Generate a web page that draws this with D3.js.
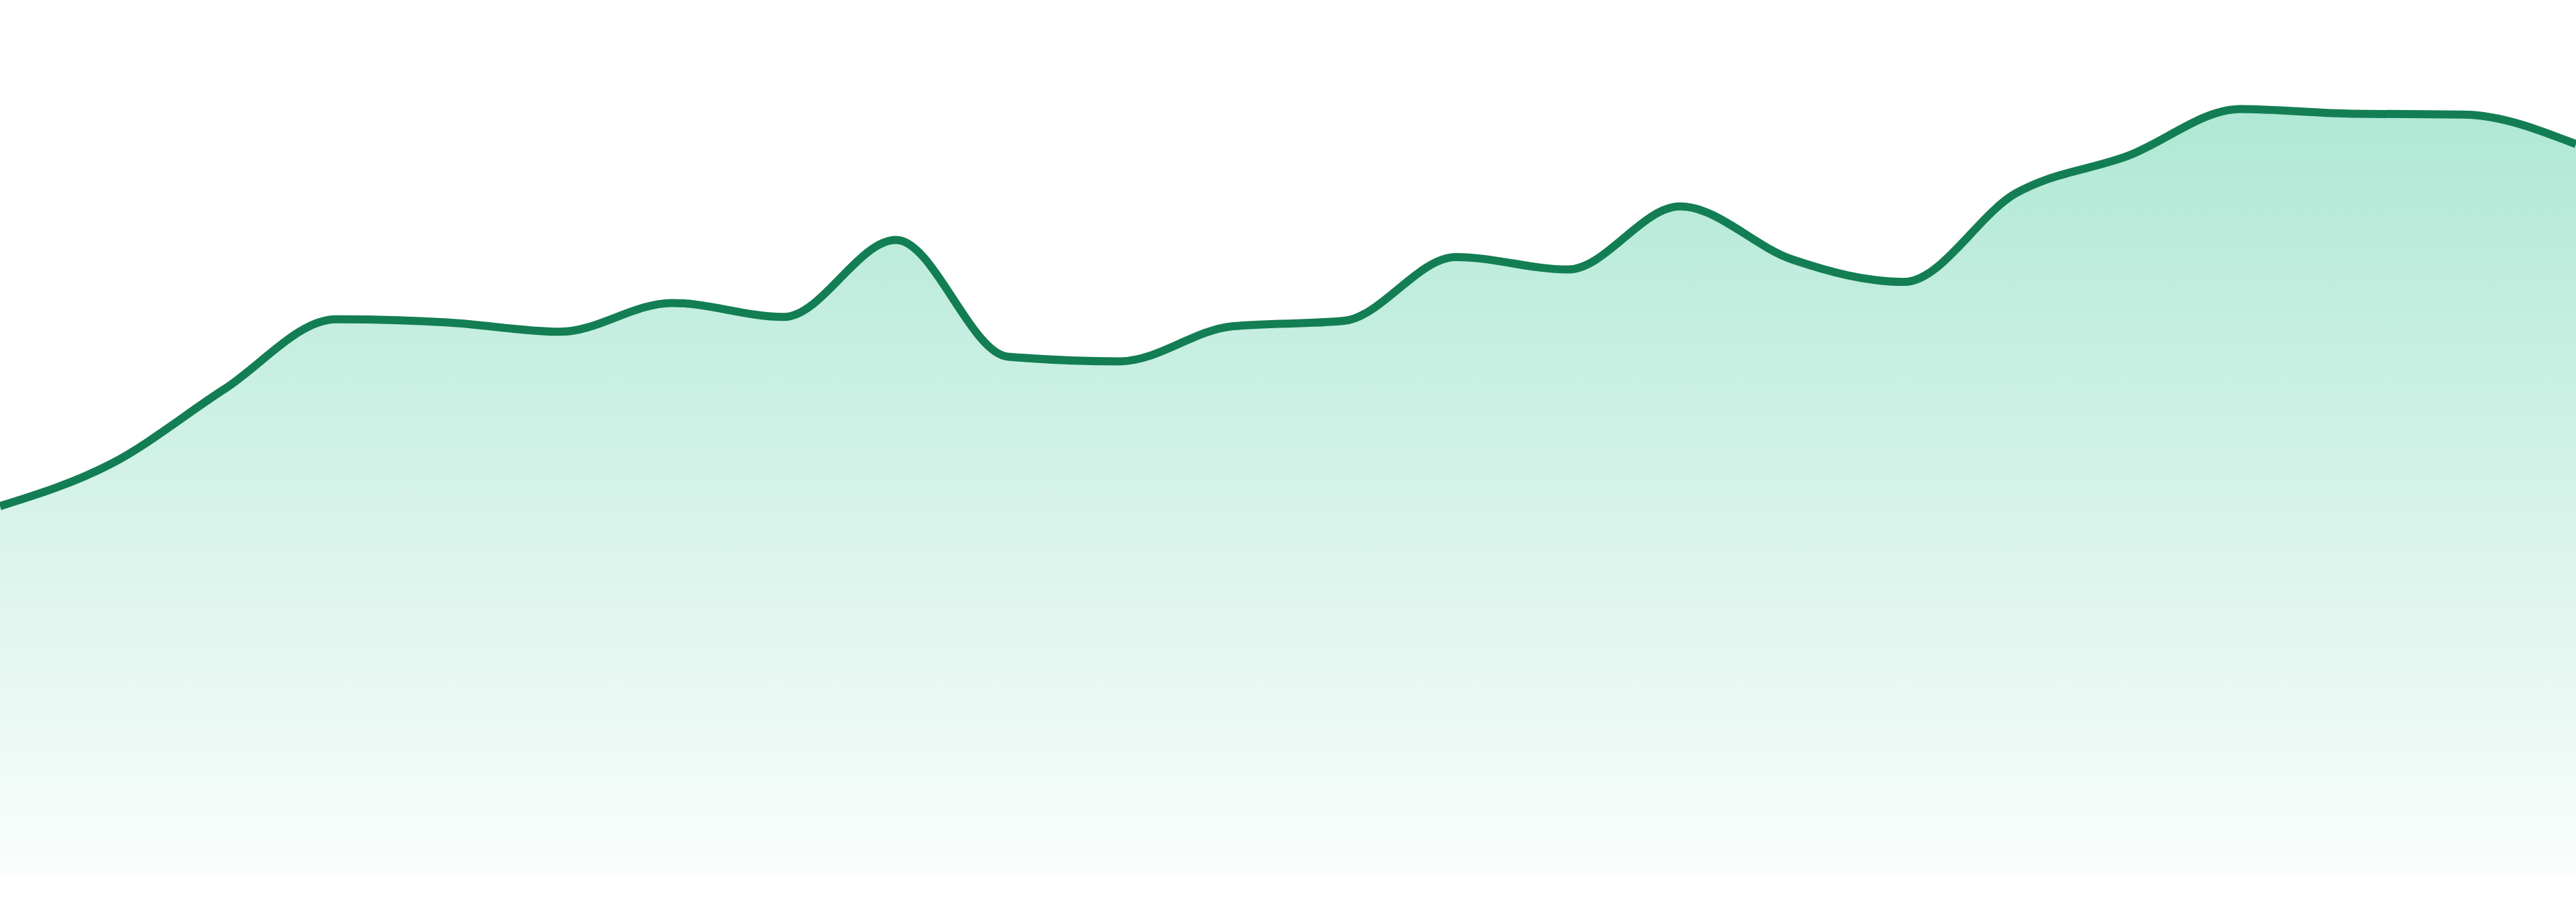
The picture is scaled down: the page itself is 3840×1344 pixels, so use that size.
<!DOCTYPE html>
<html>
<head>
<meta charset="utf-8">
<script src="https://cdn.jsdelivr.net/npm/d3@7"></script>
<style>
  html, body { margin: 0; padding: 0; background: #fff; overflow: hidden; }
</style>
</head>
<body>
<svg id="chart"></svg>
<script>
// periods along the x axis (no labels drawn in the chart)
var periods = ["P01", "P02", "P03", "P04", "P05", "P06", "P07", "P08",
               "P09", "P10", "P11", "P12", "P13", "P14", "P15", "P16",
               "P17", "P18", "P19", "P20", "P21", "P22", "P23", "P24"];

// values
var values = [47.4, 52.9, 62.4, 71.4, 71.0, 69.8, 73.5, 71.7,
              81.6, 66.6, 66.0, 70.5, 71.2, 79.4, 77.8, 85.9,
              79.1, 76.2, 87.6, 92.4, 98.4, 97.8, 97.7, 93.9];

var width = 3840, height = 1344;

var svg = d3.select("#chart")
    .attr("width", width)
    .attr("height", height);

// escalas
var xScale = d3.scalePoint().domain(periods).range([0, width]);
var yScale = d3.scaleLinear().domain([0, 100]).range([1304, 144]);

var data = periods.map((p, i) => ({ p: p, v: values[i] }));

// degradado del área
var grad = svg.append("defs").append("linearGradient")
    .attr("id", "fillGrad")
    .attr("gradientUnits", "userSpaceOnUse")
    .attr("x1", 0).attr("x2", 0)
    .attr("y1", yScale(100)).attr("y2", yScale(0));
grad.append("stop").attr("offset", "0%").attr("stop-color", "#10b981").attr("stop-opacity", 0.34);
grad.append("stop").attr("offset", "100%").attr("stop-color", "#10b981").attr("stop-opacity", 0.02);

var area = d3.area()
    .x(d => xScale(d.p))
    .y0(yScale(0))
    .y1(d => yScale(d.v))
    .curve(d3.curveMonotoneX);

var line = d3.line()
    .x(d => xScale(d.p))
    .y(d => yScale(d.v))
    .curve(d3.curveMonotoneX);

svg.append("path")
    .datum(data)
    .attr("d", area)
    .attr("fill", "url(#fillGrad)");

svg.append("path")
    .datum(data)
    .attr("d", line)
    .attr("fill", "none")
    .attr("stroke", "#137e53")
    .attr("stroke-width", 12)
    .attr("stroke-linejoin", "round");
</script>
</body>
</html>
